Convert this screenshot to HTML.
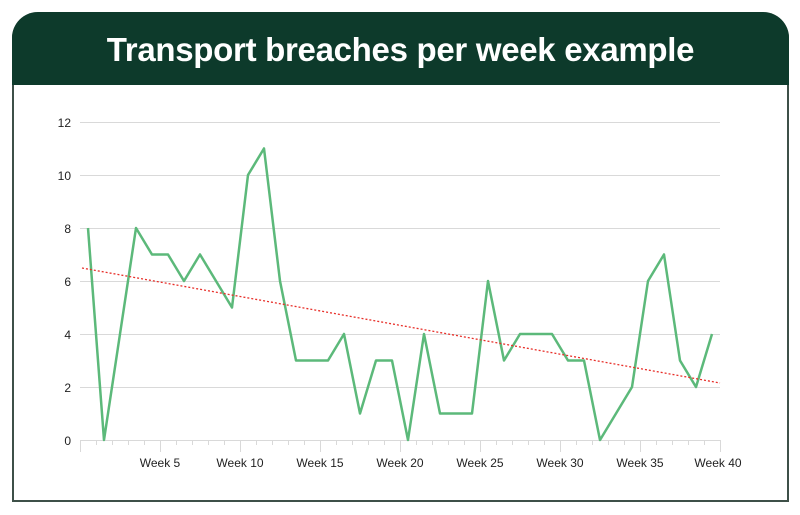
<!DOCTYPE html>
<html><head><style>
html,body{margin:0;padding:0;background:#fff;}
body{width:800px;height:515px;position:relative;overflow:hidden;font-family:"Liberation Sans",sans-serif;}
.frame{position:absolute;left:12px;top:12px;width:773px;height:488px;border:2px solid #3e5048;border-top:none;border-radius:26px 26px 0 0;box-sizing:content-box;}
.hdr{position:absolute;left:12px;top:12px;width:777px;height:73px;background:#0d3a2b;border-radius:26px 26px 0 0;color:#fff;font-weight:bold;font-size:33px;text-align:center;line-height:76px;letter-spacing:-0.3px;}
</style></head><body>
<div class="frame"></div>
<div class="hdr">Transport breaches per week example</div>
<svg width="800" height="515" style="position:absolute;left:0;top:0">
<g stroke="#d9d9d9" stroke-width="1">
<line x1="80" x2="720" y1="122.5" y2="122.5"/>
<line x1="80" x2="720" y1="175.5" y2="175.5"/>
<line x1="80" x2="720" y1="228.5" y2="228.5"/>
<line x1="80" x2="720" y1="281.5" y2="281.5"/>
<line x1="80" x2="720" y1="334.5" y2="334.5"/>
<line x1="80" x2="720" y1="387.5" y2="387.5"/>
<line x1="80" x2="720" y1="440.5" y2="440.5"/>
</g>
<g id="ticks" stroke="#d9d9d9" stroke-width="1"></g>
<g font-size="12" fill="#222" text-anchor="end">
<text x="71" y="127">12</text><text x="71" y="180">10</text><text x="71" y="233">8</text><text x="71" y="286">6</text><text x="71" y="339">4</text><text x="71" y="392">2</text><text x="71" y="445">0</text>
</g>
<g font-size="12" fill="#222" text-anchor="middle">
<text x="160" y="467">Week 5</text><text x="240" y="467">Week 10</text><text x="320" y="467">Week 15</text><text x="400" y="467">Week 20</text><text x="480" y="467">Week 25</text><text x="560" y="467">Week 30</text><text x="640" y="467">Week 35</text><text x="718" y="467">Week 40</text>
</g>
<polyline id="ln" fill="none" stroke="#5cb97a" stroke-width="2.5" stroke-linejoin="round"/>
<line x1="82" y1="268" x2="720" y2="383" stroke="#e8302a" stroke-width="1.3" stroke-dasharray="2,2"/>
</svg>
<script>
var d=[8,0,4,8,7,7,6,7,6,5,10,11,6,3,3,3,4,1,3,3,0,4,1,1,1,6,3,4,4,4,3,3,0,1,2,6,7,3,2,4];
var p=d.map(function(v,i){return (88+i*16)+","+(440-v*26.5)}).join(" ");
document.getElementById("ln").setAttribute("points",p);
var t="";for(var i=0;i<=40;i++){var x=80+i*16+0.5;t+='<line x1="'+x+'" x2="'+x+'" y1="440" y2="'+(i%5==0?452:445)+'"/>';}
document.getElementById("ticks").innerHTML=t;
</script>
</body></html>
